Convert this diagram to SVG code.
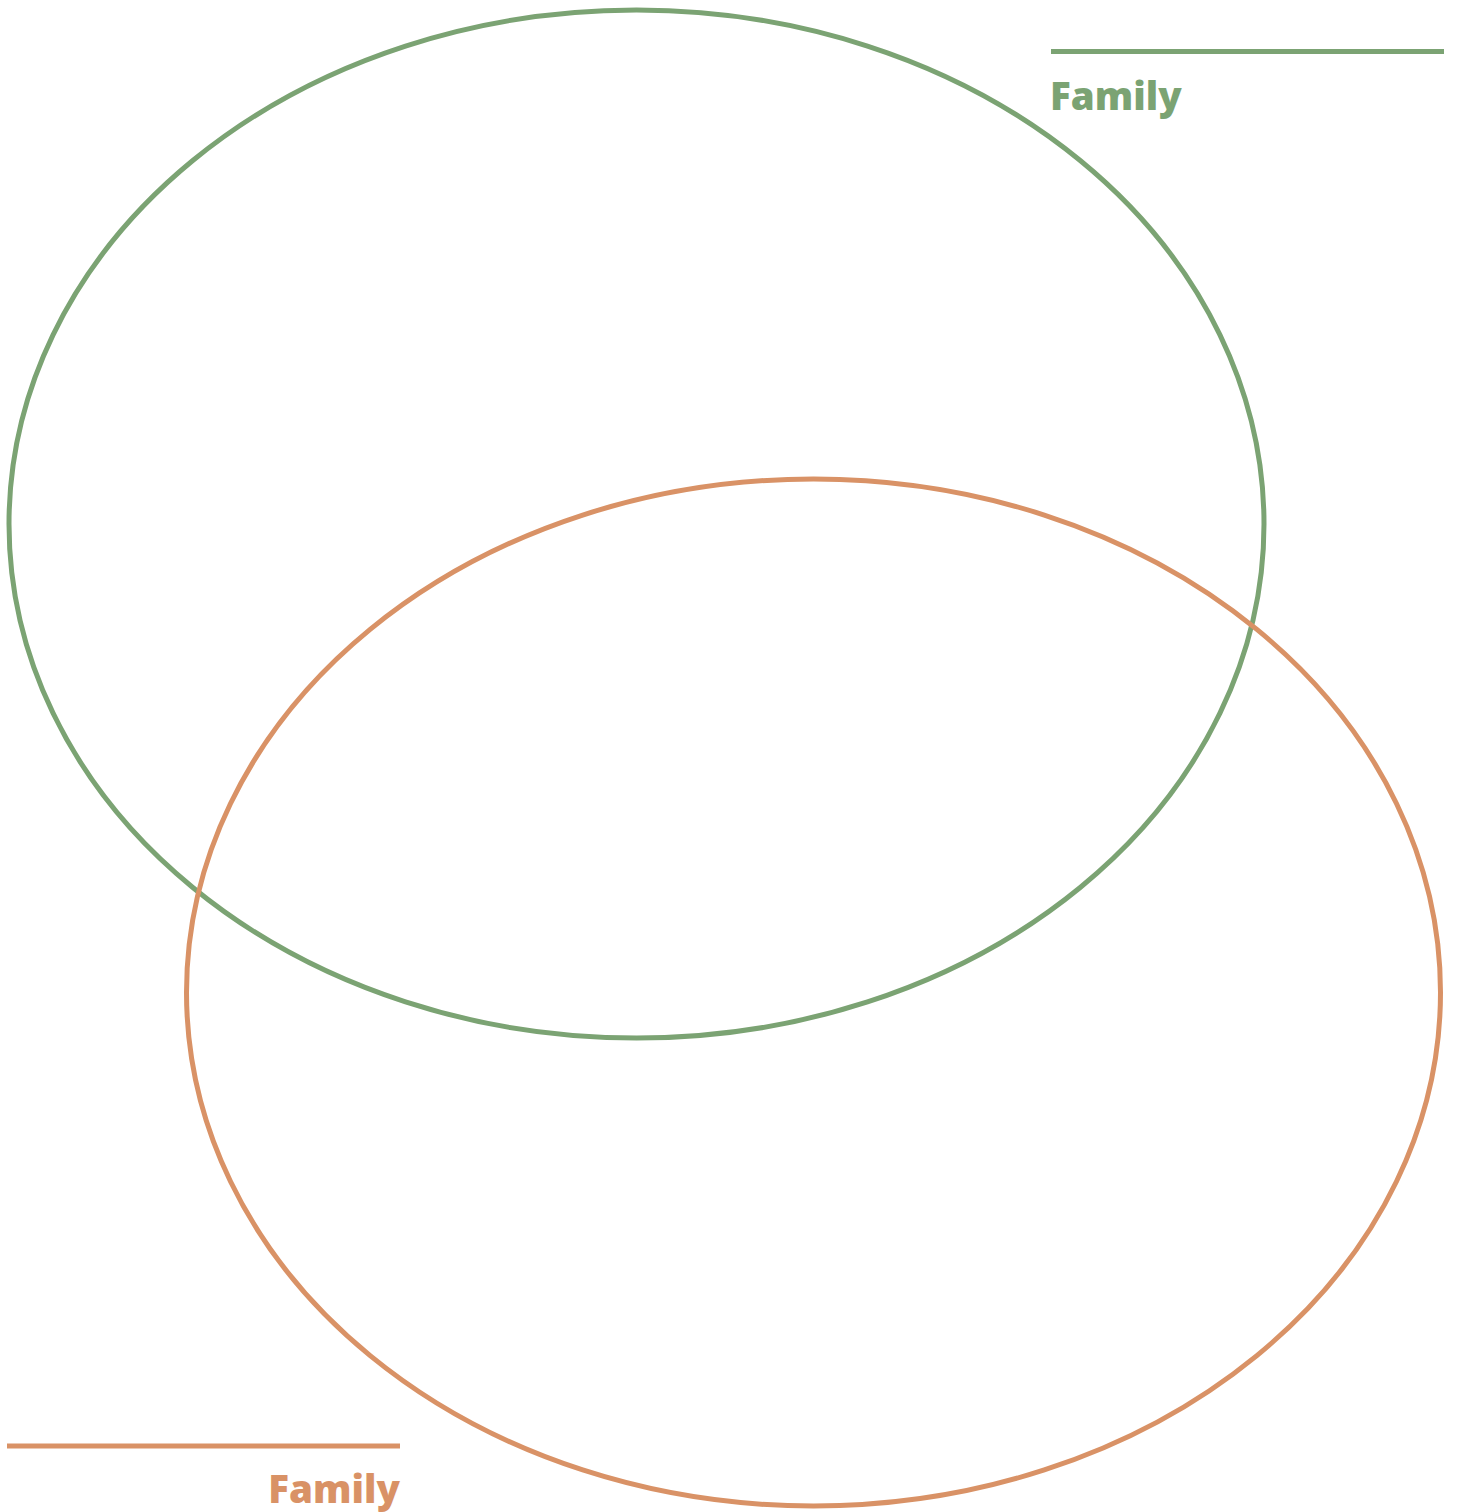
<svg xmlns="http://www.w3.org/2000/svg" width="1458" height="1512" viewBox="0 0 1458 1512">
<style>
.lbl{font-family:"Open Sans","Lato","Liberation Sans",sans-serif;font-weight:800;font-size:38.5px}
.g{stroke:#7ba373;fill:none;stroke-width:5}
.o{stroke:#d99266;fill:none;stroke-width:5}
</style>
<rect width="1458" height="1512" fill="#ffffff"/>
<g id="set-green">
<ellipse class="g" cx="636.5" cy="524" rx="627.5" ry="514"/>
<line class="g" x1="1051" y1="51.5" x2="1444" y2="51.5"/>
<text class="lbl" x="1050" y="110" fill="#7ba373">Family</text>
</g>
<g id="set-orange">
<ellipse class="o" cx="813.5" cy="992.5" rx="627" ry="513.5"/>
<line class="o" x1="7" y1="1446" x2="400" y2="1446"/>
<text class="lbl" x="400" y="1503" fill="#d99266" text-anchor="end">Family</text>
</g>
<g id="connectors"/>
</svg>
